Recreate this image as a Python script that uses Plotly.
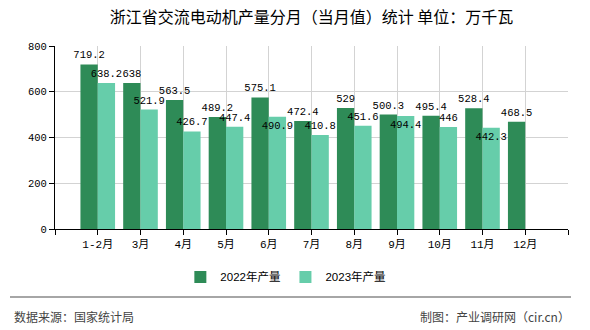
import plotly.graph_objects as go

categories = ["1-2月", "3月", "4月", "5月", "6月", "7月", "8月", "9月", "10月", "11月", "12月"]
values_2022 = [719.2, 638, 563.5, 489.2, 575.1, 472.4, 529, 500.3, 495.4, 528.4, 468.5]
values_2023 = [638.2, 521.9, 426.7, 447.4, 490.9, 410.8, 451.6, 494.4, 446, 442.3, None]
series_names = ["2022年产量", "2023年产量"]
colors = ["#2E8B57", "#66CDAA"]
y_ticks = [0, 200, 400, 600, 800]

title = "浙江省交流电动机产量分月（当月值）统计 单位：万千瓦"
source_text = "数据来源：国家统计局"
credit_text = "制图：产业调研网（cir.cn）"

xs = list(range(len(categories)))
mono = "Liberation Mono, Noto Sans CJK SC, monospace"

def fmt(v):
    if v is None:
        return ""
    return ("%g" % v)

pos_2023 = ["inside" if v in (490.9, 494.4, 442.3) else "outside" for v in values_2023]

fig = go.Figure()
fig.add_trace(go.Bar(
    x=xs, y=values_2022, name=series_names[0], marker=dict(color=colors[0], line=dict(width=0)),
    text=[fmt(v) for v in values_2022], textposition="outside", textangle=0,
    textfont=dict(family=mono, size=10.5, color="#000"),
    cliponaxis=False, constraintext="none",
))
fig.add_trace(go.Bar(
    x=xs, y=values_2023, name=series_names[1], marker=dict(color=colors[1], line=dict(width=0)),
    text=[fmt(v) for v in values_2023], textposition=pos_2023, textangle=0,
    insidetextanchor="end",
    textfont=dict(family=mono, size=10.5, color="#000"),
    insidetextfont=dict(family=mono, size=10.5, color="#000"),
    outsidetextfont=dict(family=mono, size=10.5, color="#000"),
    cliponaxis=False, constraintext="none",
))

tickvals = [-1] + xs + [len(categories)]
ticktext = [""] + categories + [""]

fig.update_layout(
    width=590, height=330,
    margin=dict(l=55, r=22, t=46, b=101),
    paper_bgcolor="white", plot_bgcolor="white",
    barmode="group", bargap=0.19, bargroupgap=0,
    title=dict(text=title, x=0.5, xref="paper", xanchor="center", y=1 - 17.5 / 330, yanchor="middle",
               font=dict(family="Noto Sans CJK SC", size=16, color="#000")),
    showlegend=True,
    legend=dict(orientation="h", x=0.45, xanchor="center", y=-0.262, yanchor="middle",
                font=dict(family="Liberation Sans, Noto Sans CJK SC", size=11.5, color="#000"),
                itemwidth=30, traceorder="normal"),
    xaxis=dict(range=[-1, len(categories)], tickmode="array", tickvals=tickvals, ticktext=ticktext,
               showgrid=True, gridcolor="#d3d3d3", gridwidth=1,
               showline=True, linecolor="#000", linewidth=1,
               ticks="outside", ticklen=5, tickcolor="#000",
               tickfont=dict(family=mono, size=11, color="#000"), zeroline=False, fixedrange=True),
    yaxis=dict(range=[0, 800], tickvals=y_ticks, showgrid=True, gridcolor="#d3d3d3", gridwidth=1,
               showline=True, linecolor="#000", linewidth=1,
               ticks="outside", ticklen=5, tickcolor="#000",
               tickfont=dict(family=mono, size=10.5, color="#000"), zeroline=False, fixedrange=True),
    font=dict(family="Noto Sans CJK SC"),
)

fig.add_shape(type="line", xref="paper", yref="paper", x0=(10 - 55) / 513, x1=(571 - 55) / 513,
              y0=(229 - 297) / 183, y1=(229 - 297) / 183, line=dict(color="#888", width=1.5))
fig.add_annotation(text=source_text, xref="paper", yref="paper", x=(12 - 55) / 513, y=(229 - 316) / 183,
                   xanchor="left", yanchor="middle", showarrow=False,
                   font=dict(family="Noto Sans CJK SC", size=12, color="#444"))
fig.add_annotation(text=credit_text, xref="paper", yref="paper", x=(572 - 55) / 513, y=(229 - 316) / 183,
                   xanchor="right", yanchor="middle", showarrow=False,
                   font=dict(family="Noto Sans CJK SC", size=12, color="#444"))

fig.write_html("out.html", config={"displayModeBar": False})
